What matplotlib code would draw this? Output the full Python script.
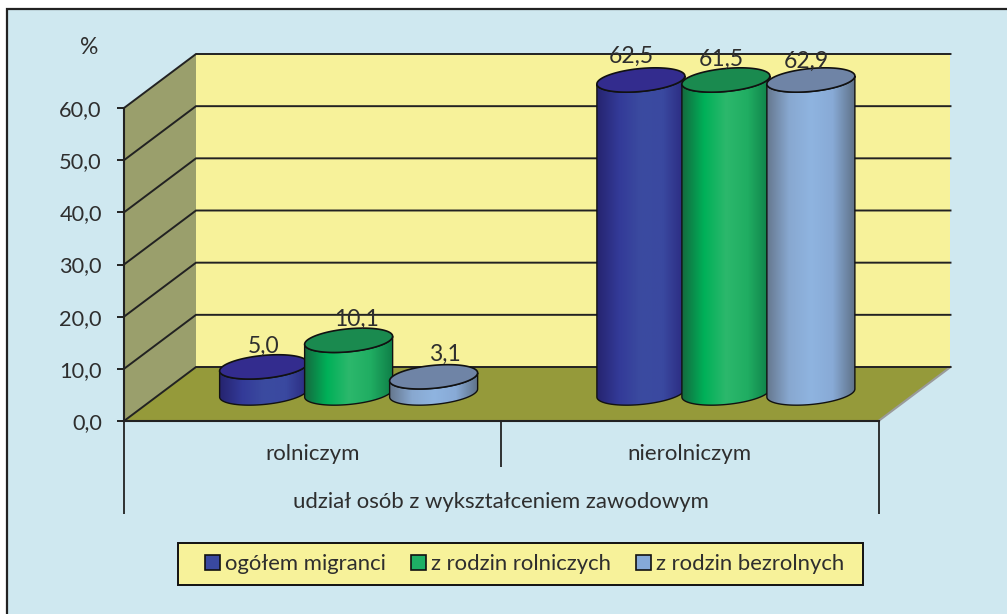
import matplotlib
matplotlib.use('Agg')
import matplotlib.pyplot as plt
import numpy as np
from matplotlib.colors import LinearSegmentedColormap
from matplotlib.patches import Polygon, Rectangle

plt.rcParams['font.family'] = ['Lato', 'DejaVu Sans']

# data
categories = ['rolniczym', 'nierolniczym']
group_label = 'udział osób z wykształceniem zawodowym'
series_names = ['ogółem migranci', 'z rodzin rolniczych', 'z rodzin bezrolnych']
ogolem = [5.0, 62.5]
rolnicze = [10.1, 61.5]
bezrolne = [3.1, 62.9]
y_ticks = [0, 10, 20, 30, 40, 50, 60]

# figure layout, in pixels of the original
W, H = 1007, 614
LEFT, RIGHT, BASE, TOP = 124, 878.5, 421, 108
X_UNIT = (RIGHT - LEFT) / 2
Y_UNIT = (BASE - TOP) / 60
DEPTH_X = 72 / X_UNIT
DEPTH_Y = 54 / Y_UNIT

TXT = '#2e2e2e'
BG = '#cfe8f0'
WALL = '#f7f29a'
SIDE = '#9a9f6c'
FLOOR = '#959a3a'

# edge, shade, middle colours for the cylinders and colour of the lid
styles = [
    (['#262470', '#333a98', '#3b4ba0', '#3a49a0', '#2b2a80'], '#332c8e', '#3949a0'),
    (['#146b3f', '#00b058', '#2cb86c', '#20ad62', '#0f7f48'], '#1a8a4f', '#1eb065'),
    (['#66788f', '#88a8d0', '#8fb4e0', '#88aad6', '#5f7288'], '#6f84a6', '#85a9d8'),
]
# label shift from the cylinder centre in pixels
label_dx = [[0, 8, 11], [-10, -5, -5]]
label_dy = [[21, 21, 22], [24, 21, 19]]

fig = plt.figure(figsize=(W / 100, H / 100), dpi=100, facecolor='white')
fig.add_artist(Rectangle((7 / W, -0.02), 1, 1.02 - 9 / H, transform=fig.transFigure,
                         facecolor=BG, edgecolor='#222222', linewidth=1.6, zorder=-1))

ax = fig.add_axes([LEFT / W, 1 - BASE / H, (RIGHT - LEFT) / W, (BASE - TOP) / H])
ax.patch.set_visible(False)

# walls and floor
ax.add_patch(Polygon([(DEPTH_X, DEPTH_Y), (2 + DEPTH_X, DEPTH_Y), (2 + DEPTH_X, 60 + DEPTH_Y),
                      (DEPTH_X, 60 + DEPTH_Y)], facecolor=WALL, edgecolor='none', zorder=1,
                     clip_on=False))
ax.add_patch(Polygon([(0, 0), (DEPTH_X, DEPTH_Y), (DEPTH_X, 60 + DEPTH_Y), (0, 60)],
                     facecolor=SIDE, edgecolor='none', zorder=1, clip_on=False))
ax.add_patch(Polygon([(0, 0), (2, 0), (2 + DEPTH_X, DEPTH_Y), (DEPTH_X, DEPTH_Y)],
                     facecolor=FLOOR, edgecolor='none', zorder=1, clip_on=False))
ax.plot([2, 2 + DEPTH_X], [0, DEPTH_Y], color='#9a9a9a', lw=1.5, zorder=1.5, clip_on=False)

for v in y_ticks:
    ax.plot([0, DEPTH_X, 2 + DEPTH_X], [v, v + DEPTH_Y, v + DEPTH_Y], color='#222222',
            lw=1.4, zorder=2, clip_on=False, solid_joinstyle='miter')

# cylinders
RX = 44 / X_UNIT
RY = 11.5 / Y_UNIT
TILT = 4 / Y_UNIT
SPACING = 85 / X_UNIT
t_low = np.linspace(np.pi, 2 * np.pi, 60)
t_all = np.linspace(0, 2 * np.pi, 120)

z = 3
for c in range(len(categories)):
    for s, values in enumerate([ogolem, rolnicze, bezrolne]):
        val = values[c]
        cx = c + 0.5 + (s - 1) * SPACING + DEPTH_X / 2
        y0 = DEPTH_Y / 2 + 1 / Y_UNIT
        y1 = y0 + min(val, 60)  # the axis stops at 60
        stops, lid, _ = styles[s]

        xs = cx + RX * np.cos(t_low)
        ys = RY * np.sin(t_low) + TILT * np.cos(t_low)
        body = np.vstack([np.column_stack([xs, y0 + ys]),
                          np.column_stack([xs[::-1], y1 + ys[::-1]])])

        cmap = LinearSegmentedColormap.from_list('cyl', stops)
        grad = np.linspace(0, 1, 200).reshape(1, -1)
        im = ax.imshow(grad, cmap=cmap, aspect='auto', zorder=z, interpolation='bilinear',
                       extent=[cx - RX, cx + RX, y0 - 2 * RY, y1 + 2 * RY])
        im.set_clip_box(fig.bbox)
        im.set_clip_path(Polygon(body, closed=True, transform=ax.transData))
        ax.add_patch(Polygon(body, closed=True, facecolor='none', edgecolor='#111111',
                             lw=1.0, zorder=z + 0.1, clip_on=False))

        top = np.column_stack([cx + RX * np.cos(t_all),
                               y1 + RY * np.sin(t_all) + TILT * np.cos(t_all)])
        ax.add_patch(Polygon(top, closed=True, facecolor=lid, edgecolor='#111111',
                             lw=1.2, zorder=z + 0.2, clip_on=False))

        ax.annotate(f'{val:.1f}'.replace('.', ','), (cx, y1),
                    xytext=(label_dx[c][s], label_dy[c][s]), textcoords='offset pixels',
                    ha='center', va='center', fontsize=16.5, color=TXT, zorder=20,
                    annotation_clip=False)
        z += 1

ax.set_xlim(0, 2)
ax.set_ylim(0, 60)

# axes
for name in ['top', 'right']:
    ax.spines[name].set_visible(False)
for name in ['left', 'bottom']:
    ax.spines[name].set_color('#222222')
    ax.spines[name].set_linewidth(1.5)
    ax.spines[name].set_zorder(30)
ax.set_xticks([])
ax.set_yticks(y_ticks)
ax.set_yticklabels([f'{v:.1f}'.replace('.', ',') for v in y_ticks], fontsize=15.7, color=TXT)
ax.tick_params(axis='y', length=5, width=1.4, color='#222222', pad=11)

# two level category axis below the floor
ax.vlines([0, 2], -93 / Y_UNIT, 0, color='#222222', lw=1.3, clip_on=False)
ax.vlines([1], -46 / Y_UNIT, 0, color='#222222', lw=1.3, clip_on=False)
for i, cat in enumerate(categories):
    ax.text(i + 0.5, -33 / Y_UNIT, cat, ha='center', va='center', fontsize=16, color=TXT)
ax.text(1, -81 / Y_UNIT, group_label, ha='center', va='center', fontsize=15.9, color=TXT)
fig.text(89 / W, 1 - 47 / H, '%', ha='center', va='center', fontsize=16.5, color=TXT)

# legend, box drawn apart since the padding differs from side to side
fig.add_artist(Rectangle((178 / W, 1 - 585 / H), 685 / W, 42 / H, transform=fig.transFigure,
                         facecolor=WALL, edgecolor='#111111', linewidth=1.4, zorder=1))
handles = [Rectangle((0, 0), 1, 1, facecolor=st[2], edgecolor='#111111', lw=1.2) for st in styles]
leg = fig.legend(handles, series_names, ncol=3, loc='center',
                 bbox_to_anchor=(524.5 / W, 1 - 564 / H), frameon=False, fontsize=15.9,
                 handlelength=0.67, handleheight=0.67, handletextpad=0.23, columnspacing=1.13,
                 borderpad=0, borderaxespad=0, labelcolor=TXT)
leg.set_zorder(2)

fig.savefig('out.png', dpi=100, facecolor='white')
